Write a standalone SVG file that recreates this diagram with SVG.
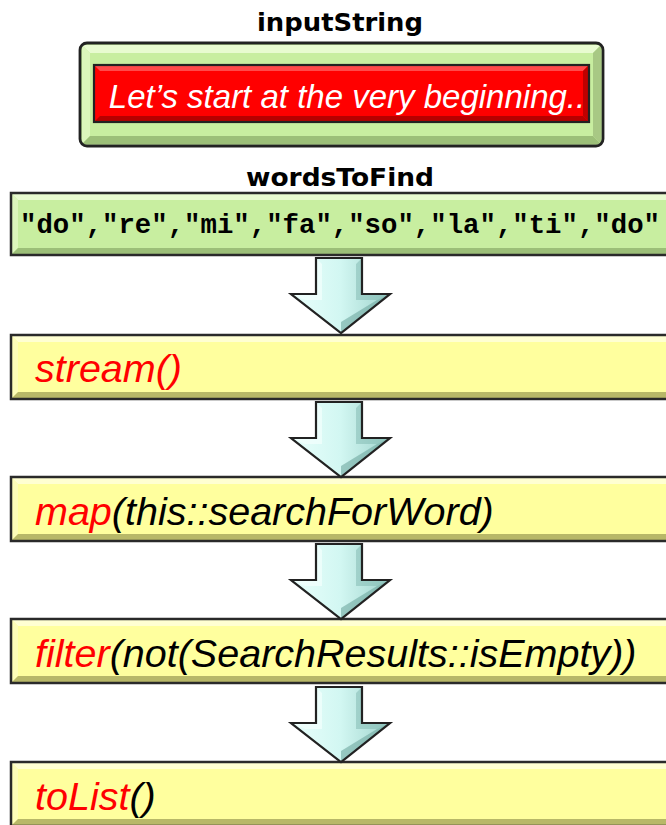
<svg xmlns="http://www.w3.org/2000/svg" xmlns:xlink="http://www.w3.org/1999/xlink" width="666" height="825" viewBox="0 0 666 825">
<style>
.lbl{font-family:"DejaVu Sans","Liberation Sans",sans-serif;font-weight:bold;font-size:25px;fill:#000;text-anchor:middle}
.op{font-family:"Liberation Sans",Arial,sans-serif;font-style:italic;font-size:39.5px;fill:#000}
.red{fill:#ff0000}
.mono{font-family:"Liberation Mono","Courier New",monospace;font-weight:bold;font-size:27.5px;fill:#000}
.sent{font-family:"Liberation Sans",Arial,sans-serif;font-style:italic;font-size:33px;fill:#fff;text-anchor:middle}
.edge{stroke:#2a2a2a;stroke-width:2.5;fill:none}
</style>
<defs>
<linearGradient id="ag" x1="0" y1="0" x2="1" y2="0">
<stop offset="0" stop-color="#e9fffc"/>
<stop offset="0.5" stop-color="#d2f7f2"/>
<stop offset="1" stop-color="#9fd3cc"/>
</linearGradient>
<g id="ybox">
<rect x="0" y="0" width="670" height="64" fill="#ffff9e"/>
<polygon points="0,0 670,0 663,7 7,7" fill="#ffffd2"/>
<polygon points="0,0 7,7 7,57 0,64" fill="#fdfdb8"/>
<polygon points="0,64 7,57 663,57 670,64" fill="#b8b868"/>
<polygon points="670,0 670,64 663,57 663,7" fill="#cccc78"/>
<rect x="0" y="0" width="670" height="64" class="edge"/>
</g>
<g id="arrow">
<path d="M25,0 H71 V36 H99 L50,75 L0,36 H25 Z" fill="url(#ag)"/>
<path d="M25,0 L31,6 V42 H14 L0,36 H25 Z" fill="#f4fffe" opacity="0.7"/>
<path d="M71,0 L65,6 V42 H86 L99,36 H71 Z" fill="#7fb8b0" opacity="0.5"/>
<path d="M50,75 L50,64 L86,42 L99,36 Z" fill="#6fa8a0" opacity="0.6"/>
<path d="M25,0 H71 V36 H99 L50,75 L0,36 H25 Z" fill="none" stroke="#222" stroke-width="2.2" stroke-linejoin="miter"/>
</g>
</defs>

<g id="inputString">
<text class="lbl" x="340" y="31" textLength="166" lengthAdjust="spacingAndGlyphs">inputString</text>
<rect x="80" y="43" width="523" height="103" rx="7" fill="#c8eea0"/>
<polygon points="82,45 601,45 593,53 90,53" fill="#e8fbd0"/>
<polygon points="82,45 90,53 90,136 82,144" fill="#dcf6bc"/>
<polygon points="82,144 90,136 593,136 601,144" fill="#9cbf78"/>
<polygon points="601,45 601,144 593,136 593,53" fill="#a8c884"/>
<rect x="80" y="43" width="523" height="103" rx="7" fill="none" stroke="#222" stroke-width="2.8"/>
<rect x="94" y="65" width="495" height="57" fill="#ff0000"/>
<polygon points="94,65 589,65 583,71 100,71" fill="#ff4a4a"/>
<polygon points="94,122 100,116 583,116 589,122" fill="#b80000"/>
<polygon points="589,65 589,122 583,116 583,71" fill="#c00000"/>
<rect x="94" y="65" width="495" height="57" fill="none" stroke="#222" stroke-width="2.2"/>
<text class="sent" x="347" y="108">Let’s start at the very beginning..</text>
</g>

<g id="wordsToFind">
<text class="lbl" x="340" y="186" textLength="188" lengthAdjust="spacingAndGlyphs">wordsToFind</text>
<rect x="11" y="193" width="670" height="62" fill="#c8eea0"/>
<polygon points="11,193 681,193 674,200 18,200" fill="#e8fbd0"/>
<polygon points="11,193 18,200 18,248 11,255" fill="#dcf6bc"/>
<polygon points="11,255 18,248 674,248 681,255" fill="#9cbf78"/>
<rect x="11" y="193" width="670" height="62" class="edge"/>
<text class="mono" x="20" y="233" textLength="640" lengthAdjust="spacingAndGlyphs">"do","re","mi","fa","so","la","ti","do"</text>
</g>

<g id="stream">
<use xlink:href="#ybox" x="11" y="335"/>
<text class="op red" x="35" y="382">stream()</text>
</g>

<g id="map">
<use xlink:href="#ybox" x="11" y="477"/>
<text class="op" x="35" y="525"><tspan class="red">map</tspan>(this::searchForWord)</text>
</g>

<g id="filter">
<use xlink:href="#ybox" x="11" y="619"/>
<text class="op" x="35" y="667"><tspan class="red">filter</tspan>(not(SearchResults::isEmpty))</text>
</g>

<g id="toList">
<use xlink:href="#ybox" x="11" y="762"/>
<text class="op" x="35" y="810"><tspan class="red">toList</tspan>()</text>
</g>

<g id="connectors">
<use xlink:href="#arrow" x="291" y="258"/>
<use xlink:href="#arrow" x="291" y="402"/>
<use xlink:href="#arrow" x="291" y="544"/>
<use xlink:href="#arrow" x="291" y="687"/>
</g>
</svg>
